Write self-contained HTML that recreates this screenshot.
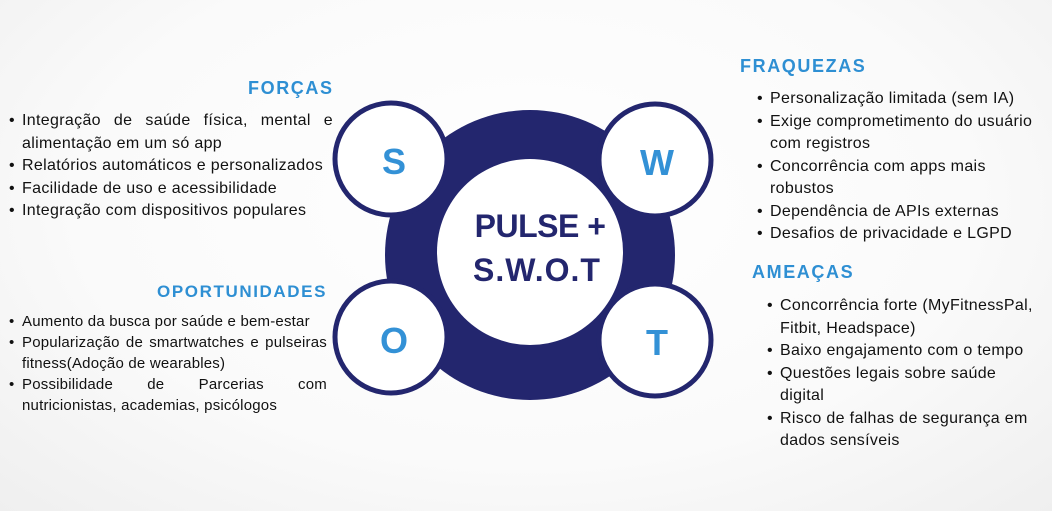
<!DOCTYPE html>
<html><head><meta charset="utf-8"><style>
*{margin:0;padding:0;box-sizing:border-box}
body{width:1052px;height:511px;overflow:hidden;position:relative;background:radial-gradient(ellipse at 50% 40%,#ffffff 0%,#fafafa 60%,#efefef 100%);font-family:"Liberation Sans",sans-serif;color:#111}
.h{position:absolute;color:#2e8fd3;font-weight:bold;font-size:18px;letter-spacing:1.6px;white-space:nowrap}
.b{position:absolute;font-size:16px;letter-spacing:0.33px;white-space:nowrap}
.b div{height:22.5px;line-height:22.5px;position:relative}
.j{text-align:justify;text-align-last:justify}
.dot{position:absolute;left:-13px;top:0}
</style></head><body>
<svg width="1052" height="511" style="position:absolute;left:0;top:0">
<circle cx="530" cy="255" r="145" fill="#23266e"/>
<circle cx="530" cy="252" r="93" fill="#fff"/>
<g fill="#fff" stroke="#23266e" stroke-width="5">
<circle cx="391" cy="159" r="56"/>
<circle cx="655" cy="160" r="56"/>
<circle cx="391" cy="337" r="56"/>
<circle cx="655" cy="340" r="56"/>
</g>
<g fill="#3391d6" font-family="Liberation Sans, sans-serif" font-weight="bold" font-size="36" text-anchor="middle">
<text x="394" y="174">S</text>
<text x="657" y="175">W</text>
<text x="394" y="353">O</text>
<text x="657" y="355">T</text>
</g>
<g fill="#23266e" font-family="Liberation Sans, sans-serif" font-weight="bold" font-size="32" text-anchor="middle">
<text x="540" y="237" letter-spacing="-0.5">PULSE +</text>
<text x="537" y="281" letter-spacing="1">S.W.O.T</text>
</g>
</svg>

<div class="h" style="left:248px;top:78px">FORÇAS</div>
<div class="b" style="left:22px;top:110px;width:311px">
<div class="j"><span class="dot">•</span>Integração de saúde física, mental e</div>
<div>alimentação em um só app</div>
<div><span class="dot">•</span>Relatórios automáticos e personalizados</div>
<div><span class="dot">•</span>Facilidade de uso e acessibilidade</div>
<div><span class="dot">•</span>Integração com dispositivos populares</div>
</div>

<div class="h" style="left:157px;top:282px;font-size:17px">OPORTUNIDADES</div>
<div class="b" style="left:22px;top:311px;width:305px;font-size:15px;letter-spacing:0.2px">
<div style="height:21px;line-height:21px"><span class="dot">•</span>Aumento da busca por saúde e bem-estar</div>
<div class="j" style="height:21px;line-height:21px"><span class="dot">•</span>Popularização de smartwatches e pulseiras</div>
<div style="height:21px;line-height:21px">fitness(Adoção de wearables)</div>
<div class="j" style="height:21px;line-height:21px"><span class="dot">•</span>Possibilidade de Parcerias com</div>
<div style="height:21px;line-height:21px">nutricionistas, academias, psicólogos</div>
</div>

<div class="h" style="left:740px;top:56px">FRAQUEZAS</div>
<div class="b" style="left:770px;top:88px">
<div><span class="dot">•</span> Personalização limitada (sem IA)</div>
<div><span class="dot">•</span>Exige comprometimento do usuário</div>
<div>com registros</div>
<div><span class="dot">•</span>Concorrência com apps mais</div>
<div>robustos</div>
<div><span class="dot">•</span>Dependência de APIs externas</div>
<div><span class="dot">•</span>Desafios de privacidade e LGPD</div>
</div>

<div class="h" style="left:752px;top:262px">AMEAÇAS</div>
<div class="b" style="left:780px;top:295px">
<div><span class="dot">•</span>Concorrência forte (MyFitnessPal,</div>
<div>Fitbit, Headspace)</div>
<div><span class="dot">•</span>Baixo engajamento com o tempo</div>
<div><span class="dot">•</span>Questões legais sobre saúde</div>
<div>digital</div>
<div><span class="dot">•</span>Risco de falhas de segurança em</div>
<div>dados sensíveis</div>
</div>
</body></html>
